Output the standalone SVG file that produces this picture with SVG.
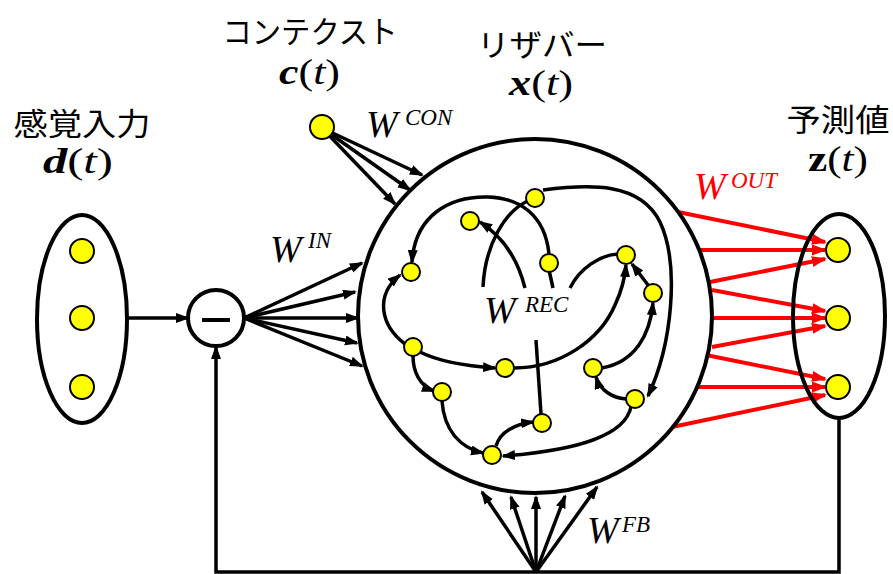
<svg xmlns="http://www.w3.org/2000/svg" width="893" height="574" viewBox="0 0 893 574">
<style>
.ln{fill:none;stroke:#000;stroke-width:3.5}
.rd{fill:none;stroke:#ff0000;stroke-width:4}
.big{fill:#ffff00;stroke:#000;stroke-width:2}
.sm{fill:#ffff00;stroke:#000;stroke-width:2}
.shape{fill:none;stroke:#000;stroke-width:4}
.jp{font-family:"Noto Sans CJK JP","Noto Sans",sans-serif;font-size:31px;fill:#000}
.mv{font-family:"Liberation Serif",serif;font-size:35px;font-weight:bold;font-style:italic;fill:#000}
.mt{font-family:"Liberation Serif",serif;font-style:italic;font-weight:normal}
.mp{font-family:"Liberation Serif",serif;font-style:normal;font-weight:normal}
.w{font-family:"Liberation Serif",serif;font-size:38px;font-style:italic;fill:#000}
.sup{font-family:"Liberation Serif",serif;font-size:23px;font-style:italic;fill:#000}
</style>
<defs>
<marker id="ah" markerUnits="userSpaceOnUse" markerWidth="15" markerHeight="11" refX="12" refY="5" orient="auto"><path d="M0,0 L14,5 L0,10 z" fill="#000"/></marker>
<marker id="ahr" markerUnits="userSpaceOnUse" markerWidth="16" markerHeight="12" refX="13" refY="5.5" orient="auto"><path d="M0,0 L15,5.5 L0,11 z" fill="#ff0000"/></marker>
</defs>
<rect width="893" height="574" fill="#fff"/>

<g id="connectors">
  <path class="ln" d="M128,318 H188" marker-end="url(#ah)"/>
  <path class="ln" d="M839,418 V572 H216 V347" marker-end="url(#ah)"/>
  <g class="ln" marker-end="url(#ah)">
    <path d="M244,318 L362,263"/>
    <path d="M244,318 L355,292"/>
    <path d="M244,318 L358,318"/>
    <path d="M244,318 L357,343"/>
    <path d="M244,318 L362,366"/>
  </g>
  <g class="ln" marker-end="url(#ah)">
    <path d="M322,128 L422,175"/>
    <path d="M322,128 L410,190"/>
    <path d="M322,128 L395,204"/>
  </g>
  <g class="ln" marker-end="url(#ah)">
    <path d="M536,572 L482,492"/>
    <path d="M536,572 L511,497"/>
    <path d="M536,572 L536,497"/>
    <path d="M536,572 L565,496"/>
    <path d="M536,572 L597,487"/>
  </g>
  <g class="rd" marker-end="url(#ahr)">
    <path d="M678,212 L825,242"/>
    <path d="M700,250 L825,250"/>
    <path d="M710,282 L825,259"/>
    <path d="M712,290 L825,311"/>
    <path d="M712,318 L825,318"/>
    <path d="M712,347 L825,326"/>
    <path d="M706,355 L825,379"/>
    <path d="M697,387 L825,387"/>
    <path d="M672,427 L825,395"/>
  </g>
  <path class="ln" d="M483,287 C485,245 505,210 530,200"/>
  <path class="ln" d="M543,190 C590,184 640,182 660,222 C680,265 672,345 648,396" marker-end="url(#ah)"/>
  <path class="ln" d="M549,254 C545,215 520,198 488,197 C450,196 415,215 412,262" marker-end="url(#ah)"/>
  <path class="ln" d="M553,288 L549,270"/>
  <path class="ln" d="M525,288 C518,260 505,238 480,222" marker-end="url(#ah)"/>
  <path class="ln" d="M570,288 C580,268 600,255 618,254"/>
  <path class="ln" d="M405,344 C380,325 375,295 400,275" marker-end="url(#ah)"/>
  <path class="ln" d="M420,352 C440,362 465,366 495,368" marker-end="url(#ah)"/>
  <path class="ln" d="M514,368 C560,368 600,340 615,305 C622,290 625,278 626,265" marker-end="url(#ah)"/>
  <path class="ln" d="M413,356 C413,372 420,386 434,391" marker-end="url(#ah)"/>
  <path class="ln" d="M442,401 C444,430 460,448 483,453" marker-end="url(#ah)"/>
  <path class="ln" d="M496,446 C500,432 515,424 533,422" marker-end="url(#ah)"/>
  <path class="ln" d="M541,414 L536,340"/>
  <path class="ln" d="M631,407 C625,435 580,450 503,456" marker-end="url(#ah)"/>
  <path class="ln" d="M626,399 C612,398 600,390 596,377" marker-end="url(#ah)"/>
  <path class="ln" d="M602,368 C635,362 650,335 653,303" marker-end="url(#ah)"/>
  <path class="ln" d="M648,285 L632,264" marker-end="url(#ah)"/>
</g>

<g id="sensory-input">
  <ellipse class="shape" cx="82" cy="319" rx="45" ry="104"/>
  <circle class="big" cx="82" cy="251" r="12"/>
  <circle class="big" cx="82" cy="318" r="12"/>
  <circle class="big" cx="82" cy="387" r="12"/>
  <text class="jp" x="82" y="135" text-anchor="middle" textLength="137" lengthAdjust="spacingAndGlyphs">感覚入力</text>
  <text class="mv" x="43" y="173" textLength="70" lengthAdjust="spacingAndGlyphs">d<tspan class="mp">(</tspan><tspan class="mt">t</tspan><tspan class="mp">)</tspan></text>
</g>

<g id="subtract">
  <circle class="shape" cx="216" cy="318" r="28"/>
  <path d="M202,320 H230" stroke="#000" stroke-width="4"/>
</g>

<g id="context">
  <circle class="big" cx="322" cy="127" r="12"/>
  <text class="jp" x="310" y="43" text-anchor="middle" textLength="175" lengthAdjust="spacingAndGlyphs">コンテクスト</text>
  <text class="mv" x="279" y="84" textLength="61" lengthAdjust="spacingAndGlyphs">c<tspan class="mp">(</tspan><tspan class="mt">t</tspan><tspan class="mp">)</tspan></text>
</g>

<g id="reservoir">
  <circle class="shape" cx="535" cy="316" r="177"/>
  <text class="jp" x="542" y="56" text-anchor="middle" textLength="130" lengthAdjust="spacingAndGlyphs">リザバー</text>
  <text class="mv" x="509" y="95" textLength="64" lengthAdjust="spacingAndGlyphs">x<tspan class="mp">(</tspan><tspan class="mt">t</tspan><tspan class="mp">)</tspan></text>
</g>

<g id="neurons">
  <g id="n1"><circle class="sm" cx="535" cy="198" r="9"/></g>
  <g id="n2"><circle class="sm" cx="470" cy="221" r="9"/></g>
  <g id="n3"><circle class="sm" cx="411" cy="272" r="9"/></g>
  <g id="n4"><circle class="sm" cx="549" cy="263" r="9"/></g>
  <g id="n5"><circle class="sm" cx="626" cy="255" r="9"/></g>
  <g id="n6"><circle class="sm" cx="653" cy="293" r="9"/></g>
  <g id="n7"><circle class="sm" cx="413" cy="347" r="9"/></g>
  <g id="n8"><circle class="sm" cx="505" cy="368" r="9"/></g>
  <g id="n9"><circle class="sm" cx="442" cy="392" r="9"/></g>
  <g id="n10"><circle class="sm" cx="593" cy="368" r="9"/></g>
  <g id="n11"><circle class="sm" cx="635" cy="399" r="9"/></g>
  <g id="n12"><circle class="sm" cx="542" cy="423" r="9"/></g>
  <g id="n13"><circle class="sm" cx="492" cy="455" r="9"/></g>
</g>

<g id="prediction">
  <ellipse class="shape" cx="839" cy="316" rx="46" ry="102"/>
  <circle class="big" cx="838" cy="250" r="12"/>
  <circle class="big" cx="838" cy="318" r="12"/>
  <circle class="big" cx="838" cy="387" r="12"/>
  <text class="jp" x="838" y="131" text-anchor="middle" textLength="103" lengthAdjust="spacingAndGlyphs">予測値</text>
  <text class="mv" x="808" y="171" textLength="60" lengthAdjust="spacingAndGlyphs"><tspan font-style="normal">z</tspan><tspan class="mp">(</tspan><tspan class="mt">t</tspan><tspan class="mp">)</tspan></text>
</g>

<g id="labels">
  <text class="w" x="270" y="262">W</text><text class="sup" x="308" y="248">IN</text>
  <text class="w" x="366" y="137">W</text><text class="sup" x="405" y="125">CON</text>
  <text class="w" x="484" y="323">W</text><text class="sup" x="525" y="312">REC</text>
  <text class="w" x="694" y="199" style="fill:#ff0000">W</text><text class="sup" x="731" y="188" style="fill:#ff0000">OUT</text>
  <text class="w" x="587" y="543">W</text><text class="sup" x="622" y="532">FB</text>
</g>
</svg>
